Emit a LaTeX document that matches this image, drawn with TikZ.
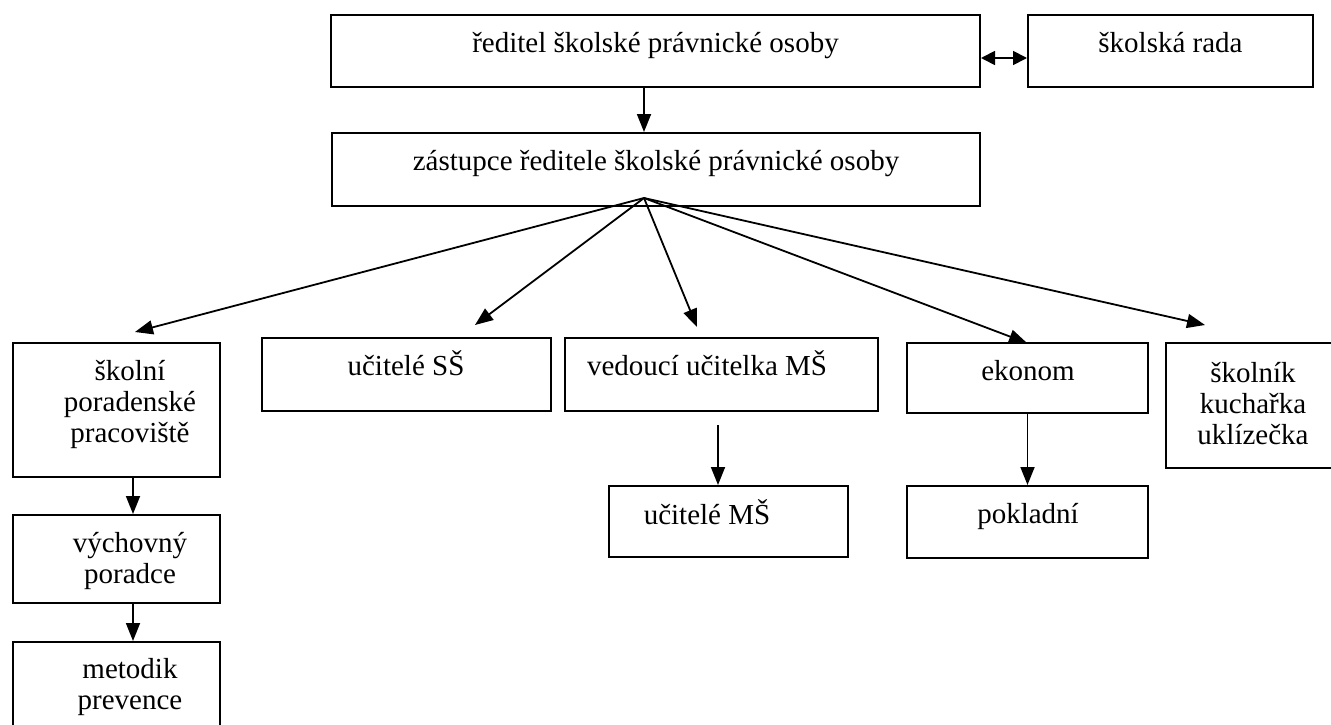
\documentclass[tikz,border=0pt]{standalone}
\usepackage{fontspec}
\setmainfont{Liberation Serif}
\usetikzlibrary{arrows.meta}
\tikzset{
  box/.style={draw, line width=2pt, inner sep=0pt, minimum width=#1},
  box/.default=100pt,
  txt/.style={anchor=base, inner sep=0pt, font=\fontsize{29}{31}\selectfont},
  arr/.style={line width=1.8pt, -{Triangle[length=18pt,width=14pt]}},
  darr/.style={line width=1.8pt, {Triangle[length=14pt,width=14pt]}-{Triangle[length=14pt,width=14pt]}}
}
\begin{document}
\begin{tikzpicture}[x=1pt,y=-1pt]
\useasboundingbox (0,0) rectangle (1331,725);
\clip (0,0) rectangle (1331,725);
% boxes
\node[box=649pt, minimum height=72pt] (dir)  at (655.5,51) {};
\node[box=285pt, minimum height=72pt] (rada) at (1170.5,51) {};
\node[box=648pt, minimum height=73pt] (zas)  at (656,169.5) {};
\node[box=207pt, minimum height=134pt] (skol) at (116.5,410) {};
\node[box=289pt, minimum height=73pt] (ss)   at (406.5,374.5) {};
\node[box=313pt, minimum height=73pt] (ved)  at (721.5,374.5) {};
\node[box=241pt, minimum height=70pt] (eko)  at (1027.5,378) {};
\node[box=179pt, minimum height=125pt] (skn) at (1255.5,405.5) {};
\node[box=207pt, minimum height=88pt] (vych) at (116.5,559) {};
\node[box=207pt, minimum height=98pt] (met)  at (116.5,691) {};
\node[box=239pt, minimum height=71pt] (ums)  at (728.5,521.5) {};
\node[box=241pt, minimum height=72pt] (pok)  at (1027.5,522) {};
% texts
\node[txt] (tdir)  at (655.5,53) {ředitel školské právnické osoby};
\node[txt] (trada) at (1170.5,53) {školská rada};
\node[txt] (tzas)  at (656,170) {zástupce ředitele školské právnické osoby};
\node[txt] (tskol) at (130,380) {\parbox[t]{200pt}{\centering školní\\poradenské\\pracoviště}};
\node[txt] (tss)   at (406,375) {učitelé SŠ};
\node[txt] (tved)  at (707,375) {vedoucí učitelka MŠ};
\node[txt] (teko)  at (1028,380) {ekonom};
\node[txt] (tskn)  at (1253,382) {\parbox[t]{170pt}{\centering školník\\kuchařka\\uklízečka}};
\node[txt] (tvych) at (130,552) {\parbox[t]{200pt}{\centering výchovný\\poradce}};
\node[txt] (tmet)  at (130,678) {\parbox[t]{200pt}{\centering metodik\\prevence}};
\node[txt] (tums)  at (707,524) {učitelé MŠ};
\node[txt] (tpok)  at (1028,523) {pokladní};
% connectors
\coordinate (fan) at (644,198);
\coordinate (tipskol) at (135,332);
\coordinate (tipss) at (475,325);
\coordinate (tipved) at (697,327);
\coordinate (tipeko) at (1027,343);
\coordinate (tipskn) at (1205,325);
\coordinate (vm) at (718,425);
\coordinate (lc) at (133,0);
\draw[darr] ([yshift=-7pt]dir.east) -- ([yshift=-7pt]rada.west);
\draw[arr] (dir.south -| fan) -- (zas.north -| fan);
\draw[arr] (fan) -- (tipskol);
\draw[arr] (fan) -- (tipss);
\draw[arr] (fan) -- (tipved);
\draw[arr] (fan) -- (tipeko);
\draw[arr] (fan) -- (tipskn);
\draw[arr] (vm) -- (vm |- ums.north);
\draw[arr] (eko.south) -- (pok.north);
\draw[arr] (skol.south -| lc) -- (vych.north -| lc);
\draw[arr] (vych.south -| lc) -- (met.north -| lc);
\end{tikzpicture}
\end{document}
